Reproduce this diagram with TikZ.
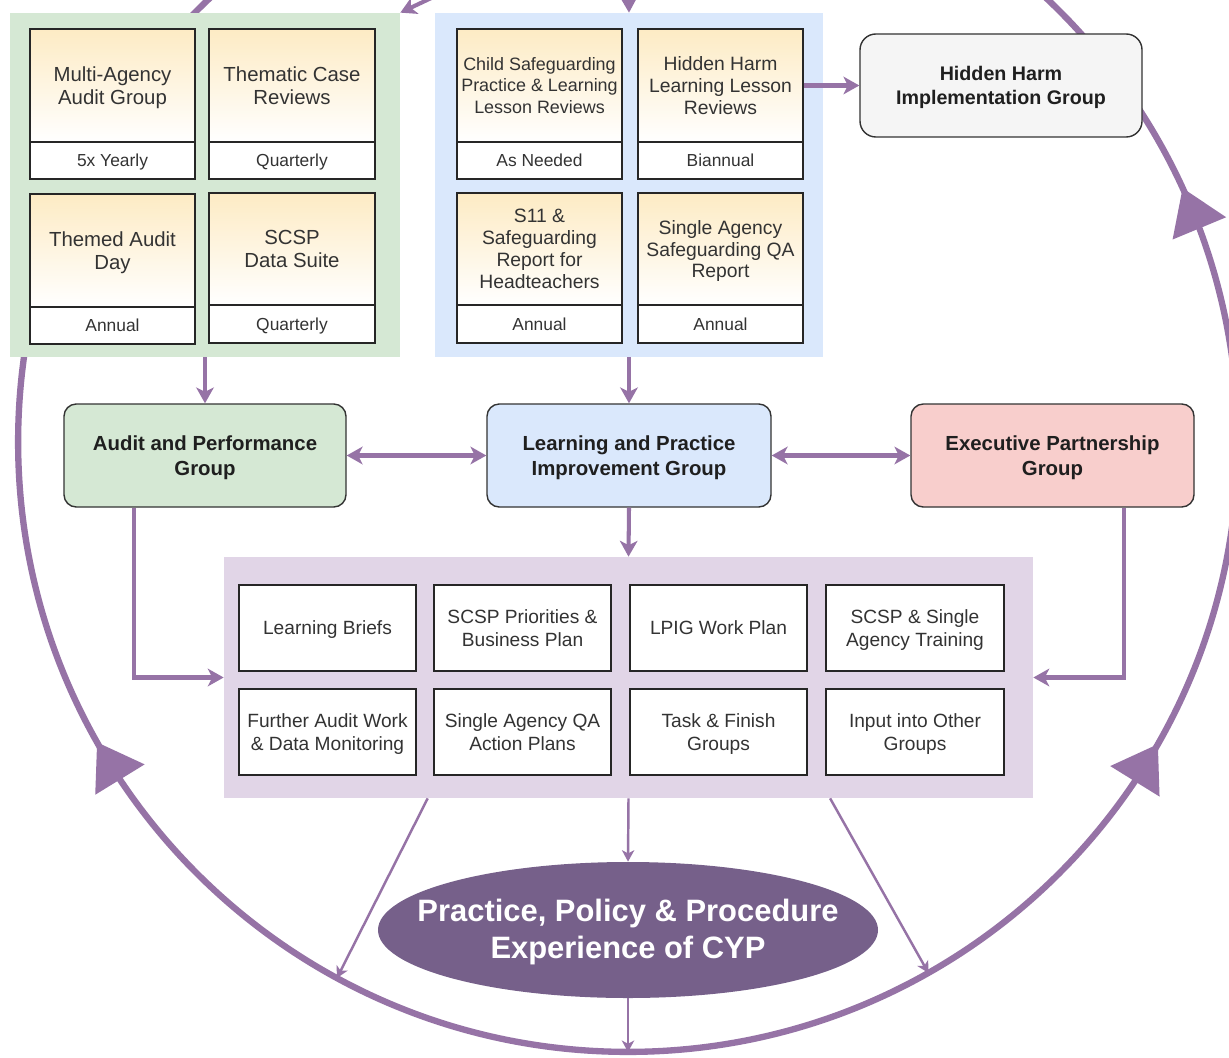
\documentclass[tikz,border=0pt]{standalone}
\usepackage{fontspec}
\setmainfont{Liberation Sans}
\usetikzlibrary{arrows.meta,calc,shapes.geometric}
\definecolor{pur}{HTML}{9673A6}
\definecolor{gfill}{HTML}{D5E8D4}
\definecolor{bfill}{HTML}{DAE8FC}
\definecolor{pfill}{HTML}{E1D5E7}
\definecolor{rfill}{HTML}{F8CECC}
\definecolor{hfill}{HTML}{F5F5F5}
\definecolor{yel}{HTML}{FDEBC4}
\definecolor{ellc}{HTML}{76608A}
\definecolor{txt}{HTML}{333333}
\newcommand\ringtip[3]{%
  \coordinate (#1t) at ($(C)+(#2:610)$);
  \coordinate (#1b) at ($(C)+(#3:610)$);
  \fill[pur] (#1t) -- ($(#1b)!0.58cm!90:(#1t)$) -- ($(#1b)!0.58cm!-90:(#1t)$) -- cycle;}
\begin{document}
\begin{tikzpicture}[x=0.02cm,y=-0.02cm,
  ptip/.tip={Stealth[length=9pt,width=10pt,inset=2.5pt]},
  stip/.tip={Stealth[length=6.5pt,width=7pt,inset=1.8pt]},
  span/.style n args={4}{at={({(#1+#3)/2},{(#2+#4)/2})}, minimum width={(#3-#1)*0.02cm}, minimum height={(#4-#2)*0.02cm}, anchor=center},
  container/.style={fill=#1, draw=none, inner sep=0pt},
  topbox/.style={draw=black!85, line width=0.8pt, top color=yel, bottom color=white, inner sep=0pt, align=center, text=txt, text depth=0pt, font=\fontsize{11.6}{13.5}\selectfont},
  footbox/.style={draw=black!85, line width=0.8pt, fill=white, inner sep=0pt, text=txt, text depth=0pt, font=\fontsize{9.9}{12}\selectfont},
  group/.style={draw=black!80, line width=0.8pt, rounded corners=7pt, fill=#1, inner sep=0pt, align=center, text=black!88, text depth=0pt, font=\bfseries\fontsize{11.6}{14.2}\selectfont},
  outbox/.style={draw=black!85, line width=0.8pt, fill=white, inner sep=0pt, align=center, text=txt, text depth=0pt, font=\fontsize{10.9}{13}\selectfont},
  ring/.style={draw=pur, line width=3.6pt},
  conn/.style={draw=pur, line width=2.3pt, -ptip},
  dconn/.style={draw=pur, line width=2.3pt, ptip-ptip},
  thin/.style={draw=pur, line width=1.4pt, -stip}]
\useasboundingbox (0,0) rectangle (1229,1057);
\clip (0,0) rectangle (1229,1057);
\fill[white] (0,0) rectangle (1229,1057);
% ring
\coordinate (C) at (628,442);
\draw[ring] (C) circle [radius=12.2cm];
\ringtip{rl}{150.5}{146.4}
\ringtip{rr}{29.7}{33.8}
\ringtip{ru}{-24.6}{-20.5}
\coordinate (cL) at ($(C)+(118.5:610)$);
\coordinate (cR) at ($(C)+(60.5:610)$);
\coordinate (cB) at ($(C)+(90:610)$);
% containers
\node[container=gfill, span={10}{13}{400}{357}] (gc) {};
\node[container=bfill, span={435}{13}{823}{357}] (bc) {};
\node[container=pfill, span={224}{557}{1033}{798}] (pc) {};
% green boxes
\node[topbox, span={30}{29}{195}{142}] (b1) {Multi-Agency\\Audit Group};
\node[footbox, span={30}{142}{195}{179}] (b1f) {5x Yearly};
\node[topbox, span={209}{29}{375}{142}] (b2) {Thematic Case\\Reviews};
\node[footbox, span={209}{142}{375}{179}] (b2f) {Quarterly};
\node[topbox, span={30}{194}{195}{307}] (b3) {Themed Audit\\Day};
\node[footbox, span={30}{307}{195}{344}] (b3f) {Annual};
\node[topbox, span={209}{193}{375}{305}] (b4) {SCSP\\Data Suite};
\node[footbox, span={209}{305}{375}{343}] (b4f) {Quarterly};
% blue boxes
\node[topbox, font=\fontsize{10.2}{12}\selectfont, span={457}{29}{622}{142}] (b5) {Child Safeguarding\\Practice \& Learning\\Lesson Reviews};
\node[footbox, span={457}{142}{622}{179}] (b5f) {As Needed};
\node[topbox, font=\fontsize{11}{12.5}\selectfont, span={638}{29}{803}{142}] (b6) {Hidden Harm\\Learning Lesson\\Reviews};
\node[footbox, span={638}{142}{803}{179}] (b6f) {Biannual};
\node[topbox, font=\fontsize{11}{12.5}\selectfont, span={457}{193}{622}{305}] (b7) {S11 \&\\Safeguarding\\Report for\\Headteachers};
\node[footbox, span={457}{305}{622}{343}] (b7f) {Annual};
\node[topbox, font=\fontsize{11}{12.5}\selectfont, span={638}{193}{803}{305}] (b8) {Single Agency\\Safeguarding QA\\Report};
\node[footbox, span={638}{305}{803}{343}] (b8f) {Annual};
% groups
\node[group=hfill, rounded corners=9pt, font=\bfseries\fontsize{11.2}{13.8}\selectfont, span={860}{34}{1142}{137}] (hhig) {Hidden Harm\\Implementation Group};
\node[group=gfill, span={64}{404}{346}{507}] (apg) {Audit and Performance\\Group};
\node[group=bfill, span={487}{404}{771}{507}] (lpig) {Learning and Practice\\Improvement Group};
\node[group=rfill, span={911}{404}{1194}{507}] (epg) {Executive Partnership\\Group};
% outputs
\node[outbox, span={239}{585}{416}{671}] (o1) {Learning Briefs};
\node[outbox, span={434}{585}{611}{671}] (o2) {SCSP Priorities \&\\Business Plan};
\node[outbox, span={630}{585}{807}{671}] (o3) {LPIG Work Plan};
\node[outbox, span={826}{585}{1004}{671}] (o4) {SCSP \& Single\\Agency Training};
\node[outbox, span={239}{689}{416}{775}] (o5) {Further Audit Work\\\& Data Monitoring};
\node[outbox, span={434}{689}{611}{775}] (o6) {Single Agency QA\\Action Plans};
\node[outbox, span={630}{689}{807}{775}] (o7) {Task \& Finish\\Groups};
\node[outbox, span={826}{689}{1004}{775}] (o8) {Input into Other\\Groups};
% ellipse
\node[ellipse, fill=ellc, draw=none, minimum width=500*0.02cm, minimum height=136*0.02cm, inner sep=0pt] (ell) at (628,930) {};
\node[text=white, align=center, font=\bfseries\fontsize{17.6}{21.6}\selectfont, inner sep=0pt] (elltext) at (628,932) {Practice, Policy \& Procedure\\Experience of CYP};
% incoming from outside
\coordinate (topin) at (628,-40);
\coordinate (tlin) at (480,-25);
\draw[conn] (topin) -- (bc.north);
\draw[conn] (tlin) -- (gc.north east);
% connectors
\draw[conn] (b6.east) -- (hhig.west);
\draw[conn] (gc.south) -- (apg.north);
\draw[conn] (bc.south) -- (lpig.north);
\draw[dconn] (apg.east) -- (lpig.west);
\draw[dconn] (lpig.east) -- (epg.west);
\draw[conn] (lpig.south) -- (pc.north);
\coordinate (apgout) at ($(apg.south west)!0.25!(apg.south east)$);
\coordinate (epgout) at ($(epg.south west)!0.75!(epg.south east)$);
\draw[conn] (apgout) |- (pc.west);
\draw[conn] (epgout) |- (pc.east);
\coordinate (pcl) at ($(pc.south west)!0.252!(pc.south east)$);
\coordinate (pcr) at ($(pc.south west)!0.749!(pc.south east)$);
\draw[thin] (pc.south) -- (ell.north);
\draw[thin] (pcl) -- (cL);
\draw[thin] (pcr) -- (cR);
\draw[thin] (ell.south) -- (cB);
\end{tikzpicture}
\end{document}
